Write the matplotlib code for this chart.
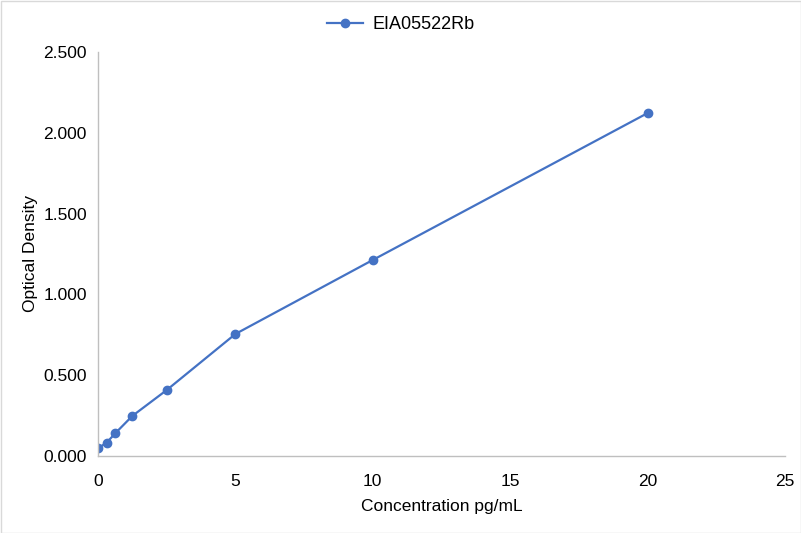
import matplotlib
matplotlib.use("Agg")
import matplotlib.pyplot as plt
from matplotlib.patches import Rectangle
from matplotlib.ticker import FuncFormatter

plt.rcParams["font.family"] = ["Liberation Sans", "DejaVu Sans"]

# standard curve values
concentration = [0, 0.3125, 0.625, 1.25, 2.5, 5, 10, 20]
optical_density = [0.048, 0.082, 0.140, 0.248, 0.408, 0.755, 1.213, 2.122]
series_name = "EIA05522Rb"
x_ticks = [0, 5, 10, 15, 20, 25]
y_ticks = [0, 0.5, 1.0, 1.5, 2.0, 2.5]

line_color = "#4472C4"
axis_color = "#BFBFBF"
fs = 12.5

fig = plt.figure(figsize=(8.01, 5.33), dpi=100)
ax = fig.add_axes([98 / 801, 77 / 533, 687 / 801, 404 / 533])

ax.plot(concentration, optical_density, color=line_color, linewidth=1.6,
        marker="o", markersize=6, label=series_name)

ax.set_xlim(0, 25)
ax.set_ylim(0, 2.5)
ax.set_xticks(x_ticks)
ax.set_yticks(y_ticks)
ax.yaxis.set_major_formatter(FuncFormatter(lambda v, p: f"{v:.3f}"))

for side in ("top", "right"):
    ax.spines[side].set_visible(False)
for side in ("left", "bottom"):
    ax.spines[side].set_color(axis_color)
    ax.spines[side].set_linewidth(1)
ax.tick_params(axis="both", length=0, labelsize=fs, colors="black")
ax.tick_params(axis="x", pad=13)
ax.tick_params(axis="y", pad=8)

ax.set_xlabel("Concentration pg/mL", fontsize=fs, color="black", labelpad=7.5)
ax.set_ylabel("Optical Density", fontsize=fs, color="black", labelpad=4)

fig.legend(loc="upper center", bbox_to_anchor=(0.5, 1.0), frameon=False,
           fontsize=13, handlelength=2.0, handletextpad=0.5)

# light chart border like the source
fig.patches.append(Rectangle((0.5 / 801, 0.5 / 533), 800 / 801, 532 / 533,
                             transform=fig.transFigure, fill=False,
                             edgecolor="#D9D9D9", linewidth=1))

fig.savefig("out.png", dpi=100)
